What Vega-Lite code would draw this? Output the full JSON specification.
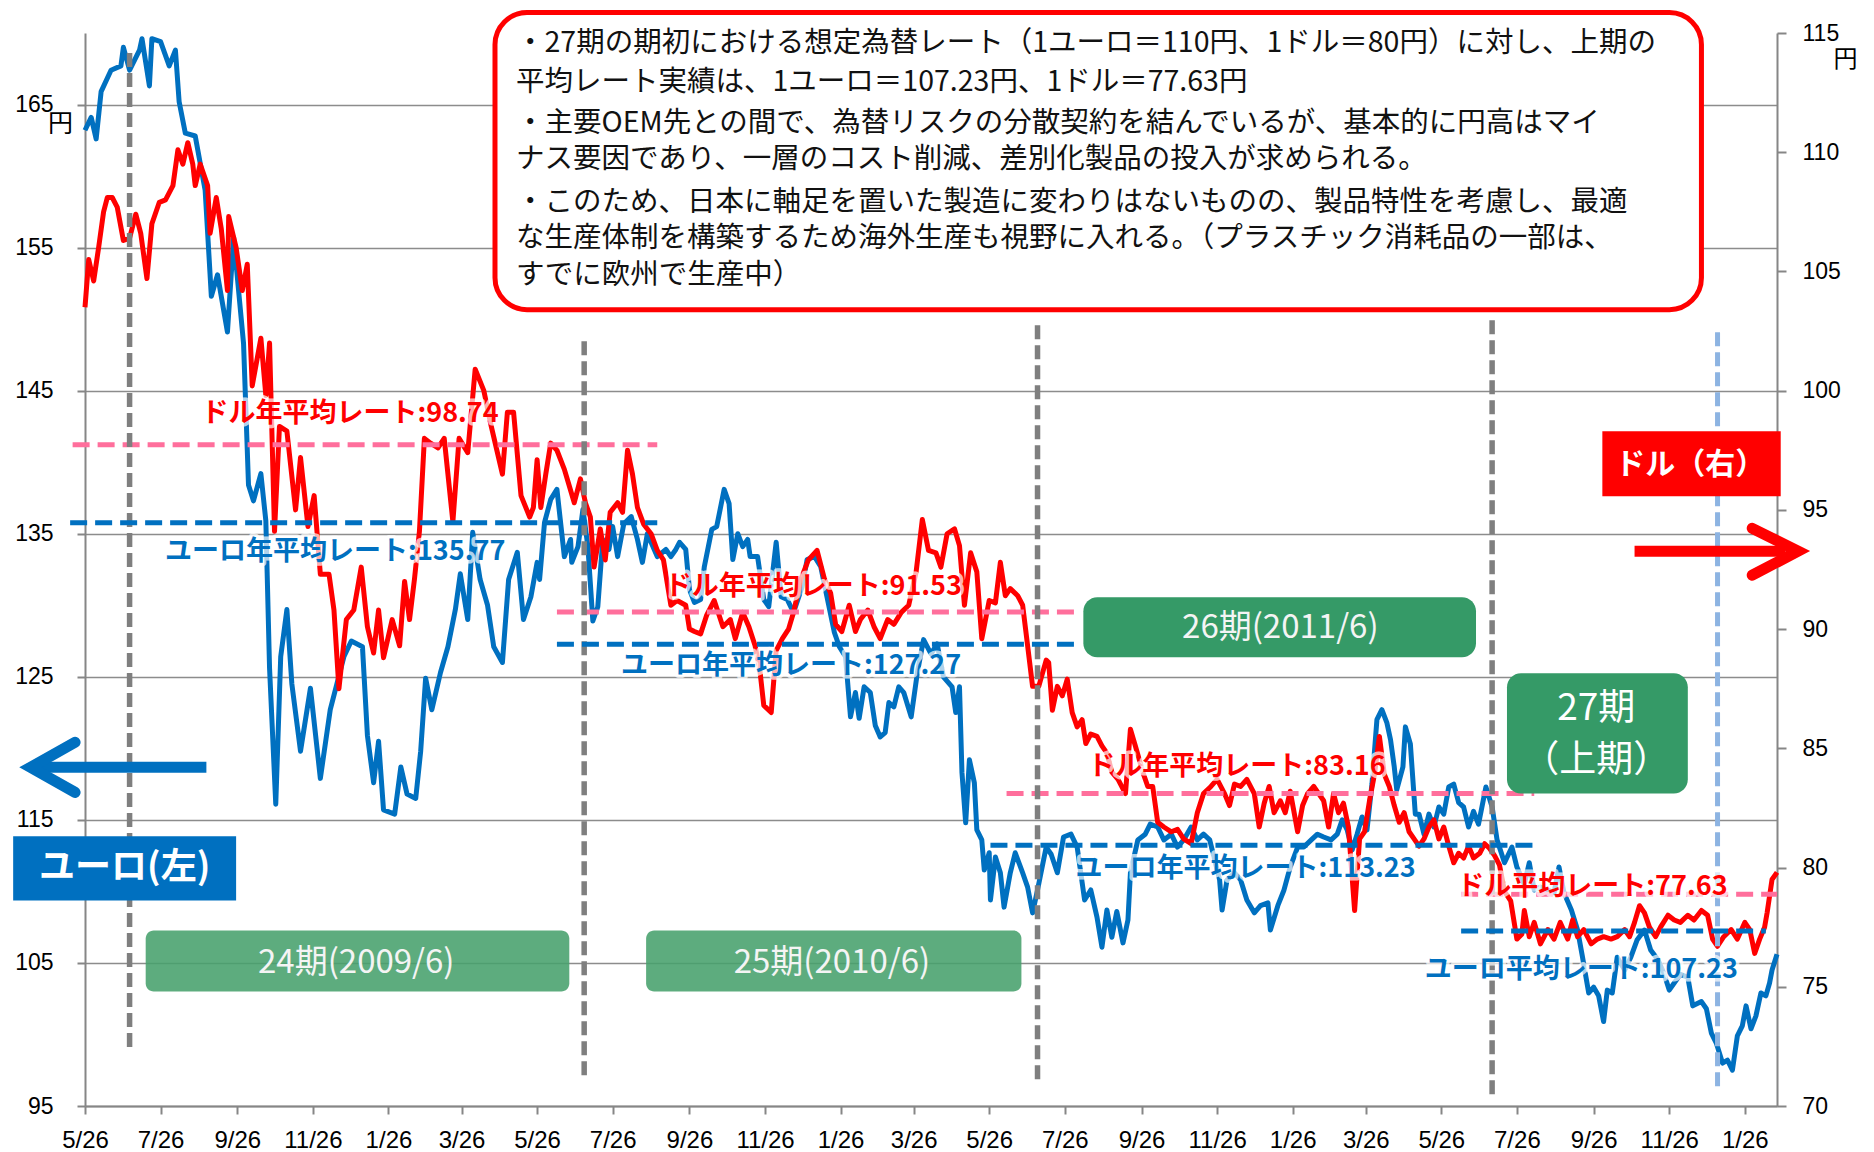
{
"$schema":"https://vega.github.io/schema/vega-lite/v6.json",
"width":1692,"height":1073,
"autosize":{"type":"none"},
"padding":{"left":85,"top":33,"right":97,"bottom":46},
"background":"white",
"config":{"view":{"stroke":null},"font":"Noto Sans CJK JP"},
"datasets":{
"euro":[
{"d":"2008-05-26","v":163.2},{"d":"2008-05-31","v":164.1},{"d":"2008-06-04","v":162.6},{"d":"2008-06-08","v":165.9},{"d":"2008-06-16","v":167.4},{"d":"2008-06-24","v":167.7},{"d":"2008-06-26","v":169.0},{"d":"2008-07-01","v":167.4},{"d":"2008-07-09","v":168.8},{"d":"2008-07-11","v":169.6},{"d":"2008-07-17","v":166.3},{"d":"2008-07-19","v":169.6},{"d":"2008-07-26","v":169.4},{"d":"2008-08-02","v":167.7},{"d":"2008-08-07","v":168.8},{"d":"2008-08-10","v":165.2},{"d":"2008-08-15","v":163.0},{"d":"2008-08-23","v":162.8},{"d":"2008-08-31","v":159.0},{"d":"2008-09-05","v":151.6},{"d":"2008-09-10","v":153.1},{"d":"2008-09-18","v":149.1},{"d":"2008-09-23","v":155.7},{"d":"2008-10-01","v":148.3},{"d":"2008-10-05","v":138.4},{"d":"2008-10-09","v":137.3},{"d":"2008-10-15","v":139.2},{"d":"2008-10-19","v":135.9},{"d":"2008-10-22","v":125.6},{"d":"2008-10-27","v":116.1},{"d":"2008-10-31","v":126.4},{"d":"2008-11-05","v":129.7},{"d":"2008-11-09","v":124.5},{"d":"2008-11-16","v":119.8},{"d":"2008-11-24","v":124.2},{"d":"2008-12-02","v":117.9},{"d":"2008-12-10","v":122.7},{"d":"2008-12-21","v":126.4},{"d":"2008-12-27","v":127.5},
{"d":"2009-01-05","v":127.1},{"d":"2009-01-09","v":120.9},{"d":"2009-01-14","v":117.6},{"d":"2009-01-18","v":120.5},{"d":"2009-01-22","v":115.7},{"d":"2009-01-31","v":115.4},{"d":"2009-02-05","v":118.7},{"d":"2009-02-10","v":116.8},{"d":"2009-02-17","v":116.5},{"d":"2009-02-21","v":119.8},{"d":"2009-02-25","v":124.9},{"d":"2009-03-02","v":122.7},{"d":"2009-03-09","v":125.3},{"d":"2009-03-15","v":127.1},{"d":"2009-03-21","v":129.7},{"d":"2009-03-25","v":132.2},{"d":"2009-03-31","v":129.0},{"d":"2009-04-04","v":135.1},{"d":"2009-04-10","v":131.8},{"d":"2009-04-16","v":130.0},{"d":"2009-04-21","v":127.1},{"d":"2009-04-28","v":126.0},{"d":"2009-05-03","v":131.8},{"d":"2009-05-10","v":133.7},{"d":"2009-05-15","v":129.0},
{"d":"2009-05-21","v":130.6},{"d":"2009-05-26","v":133.0},{"d":"2009-05-28","v":131.8},{"d":"2009-06-01","v":135.8},{"d":"2009-06-06","v":137.4},{"d":"2009-06-11","v":138.1},{"d":"2009-06-17","v":133.4},{"d":"2009-06-22","v":134.6},{"d":"2009-06-23","v":133.0},{"d":"2009-06-28","v":134.1},{"d":"2009-07-02","v":136.7},{"d":"2009-07-06","v":134.1},{"d":"2009-07-10","v":128.9},{"d":"2009-07-14","v":129.9},{"d":"2009-07-18","v":134.6},{"d":"2009-07-23","v":133.9},{"d":"2009-07-26","v":135.5},{"d":"2009-07-30","v":133.4},{"d":"2009-08-04","v":135.7},{"d":"2009-08-10","v":136.2},{"d":"2009-08-15","v":134.6},{"d":"2009-08-19","v":133.0},{"d":"2009-08-23","v":135.0},{"d":"2009-08-31","v":133.4},{"d":"2009-09-07","v":133.9},{"d":"2009-09-11","v":133.4},{"d":"2009-09-15","v":133.9},{"d":"2009-09-18","v":134.4},{"d":"2009-09-23","v":133.9},{"d":"2009-09-26","v":131.1},{"d":"2009-09-30","v":130.2},{"d":"2009-10-05","v":130.4},{"d":"2009-10-08","v":132.7},{"d":"2009-10-14","v":135.3},{"d":"2009-10-18","v":135.5},{"d":"2009-10-24","v":138.1},{"d":"2009-10-28","v":137.1},{"d":"2009-10-31","v":133.2},{"d":"2009-11-04","v":135.0},{"d":"2009-11-08","v":134.1},{"d":"2009-11-12","v":134.6},{"d":"2009-11-14","v":133.4},{"d":"2009-11-20","v":133.4},{"d":"2009-11-25","v":130.4},{"d":"2009-11-29","v":129.9},{"d":"2009-12-05","v":134.4},{"d":"2009-12-09","v":130.6},{"d":"2009-12-14","v":130.4},{"d":"2009-12-19","v":129.5},{"d":"2009-12-26","v":131.3},{"d":"2009-12-30","v":133.2},
{"d":"2010-01-05","v":133.4},{"d":"2010-01-10","v":132.7},{"d":"2010-01-15","v":130.6},{"d":"2010-01-21","v":128.1},{"d":"2010-01-25","v":127.1},{"d":"2010-01-30","v":126.4},{"d":"2010-02-03","v":122.2},{"d":"2010-02-07","v":123.9},{"d":"2010-02-10","v":122.1},{"d":"2010-02-14","v":124.3},{"d":"2010-02-19","v":123.9},{"d":"2010-02-23","v":121.6},{"d":"2010-02-27","v":120.8},{"d":"2010-03-03","v":121.1},{"d":"2010-03-06","v":123.2},{"d":"2010-03-10","v":122.9},{"d":"2010-03-14","v":124.3},{"d":"2010-03-18","v":123.9},{"d":"2010-03-24","v":122.2},{"d":"2010-03-29","v":125.3},{"d":"2010-04-03","v":127.6},{"d":"2010-04-09","v":126.6},{"d":"2010-04-14","v":127.3},{"d":"2010-04-19","v":125.0},{"d":"2010-04-26","v":124.3},{"d":"2010-04-29","v":122.5},{"d":"2010-05-02","v":124.3},{"d":"2010-05-04","v":118.3},{"d":"2010-05-07","v":114.8},{"d":"2010-05-10","v":119.2},{"d":"2010-05-14","v":117.6},{"d":"2010-05-16","v":114.3},{"d":"2010-05-20","v":113.6},{"d":"2010-05-22","v":111.5},{"d":"2010-05-26","v":112.7},{"d":"2010-05-27","v":109.4},{"d":"2010-05-31","v":112.4},{"d":"2010-06-04","v":111.3},{"d":"2010-06-07","v":108.9},{"d":"2010-06-12","v":111.3},{"d":"2010-06-16","v":112.7},{"d":"2010-06-22","v":111.3},{"d":"2010-06-26","v":110.3},{"d":"2010-06-30","v":108.5},{"d":"2010-07-04","v":110.1},{"d":"2010-07-11","v":113.1},
{"d":"2010-07-15","v":112.6},{"d":"2010-07-20","v":111.3},{"d":"2010-07-25","v":113.8},{"d":"2010-07-31","v":114.0},{"d":"2010-08-05","v":113.1},{"d":"2010-08-11","v":109.4},{"d":"2010-08-16","v":110.1},{"d":"2010-08-21","v":108.2},{"d":"2010-08-25","v":106.1},{"d":"2010-08-29","v":108.7},{"d":"2010-09-02","v":106.8},{"d":"2010-09-06","v":108.6},{"d":"2010-09-11","v":106.4},{"d":"2010-09-15","v":108.0},{"d":"2010-09-17","v":111.3},{"d":"2010-09-23","v":113.6},{"d":"2010-09-29","v":114.0},{"d":"2010-10-03","v":114.7},{"d":"2010-10-09","v":114.5},{"d":"2010-10-14","v":113.6},{"d":"2010-10-20","v":114.0},{"d":"2010-10-25","v":113.1},{"d":"2010-10-30","v":113.6},{"d":"2010-11-05","v":114.5},{"d":"2010-11-10","v":113.6},{"d":"2010-11-15","v":114.0},{"d":"2010-11-20","v":113.6},{"d":"2010-11-24","v":112.2},{"d":"2010-11-28","v":110.8},{"d":"2010-11-30","v":108.7},{"d":"2010-12-04","v":110.8},{"d":"2010-12-10","v":111.3},{"d":"2010-12-15","v":110.8},{"d":"2010-12-20","v":109.4},{"d":"2010-12-26","v":108.5},{"d":"2010-12-31","v":109.0},
{"d":"2011-01-06","v":109.2},{"d":"2011-01-08","v":107.3},{"d":"2011-01-14","v":109.0},{"d":"2011-01-19","v":110.1},{"d":"2011-01-24","v":111.7},{"d":"2011-01-30","v":113.1},{"d":"2011-02-04","v":113.1},{"d":"2011-02-10","v":113.6},{"d":"2011-02-15","v":114.0},{"d":"2011-02-20","v":113.8},{"d":"2011-02-26","v":113.6},{"d":"2011-03-03","v":114.0},{"d":"2011-03-07","v":115.0},{"d":"2011-03-11","v":114.3},{"d":"2011-03-15","v":112.9},{"d":"2011-03-19","v":114.0},{"d":"2011-03-23","v":115.2},{"d":"2011-03-27","v":114.3},{"d":"2011-03-31","v":117.5},{"d":"2011-04-04","v":122.0},{"d":"2011-04-08","v":122.7},{"d":"2011-04-12","v":121.8},{"d":"2011-04-15","v":120.6},{"d":"2011-04-18","v":118.7},{"d":"2011-04-20","v":117.1},{"d":"2011-04-25","v":118.7},{"d":"2011-04-27","v":121.5},{"d":"2011-05-01","v":120.3},{"d":"2011-05-05","v":115.4},{"d":"2011-05-08","v":115.4},{"d":"2011-05-12","v":114.0},{"d":"2011-05-16","v":115.4},{"d":"2011-05-20","v":114.5},{"d":"2011-05-24","v":115.9},{"d":"2011-05-28","v":115.4},{"d":"2011-06-01","v":117.3},{"d":"2011-06-05","v":117.5},{"d":"2011-06-09","v":116.2},{"d":"2011-06-13","v":115.9},{"d":"2011-06-17","v":114.5},{"d":"2011-06-21","v":115.6},{"d":"2011-06-25","v":114.7},{"d":"2011-07-01","v":117.3},{"d":"2011-07-06","v":115.9},{"d":"2011-07-10","v":113.6},{"d":"2011-07-16","v":112.0},{"d":"2011-07-22","v":113.1},{"d":"2011-07-26","v":111.7},{"d":"2011-08-01","v":110.5},
{"d":"2011-08-05","v":112.0},{"d":"2011-08-09","v":110.1},{"d":"2011-08-14","v":110.3},{"d":"2011-08-20","v":110.1},{"d":"2011-08-25","v":109.9},{"d":"2011-08-29","v":111.7},{"d":"2011-09-02","v":109.9},{"d":"2011-09-08","v":108.7},{"d":"2011-09-13","v":107.3},{"d":"2011-09-17","v":105.4},{"d":"2011-09-22","v":102.9},{"d":"2011-09-26","v":103.3},{"d":"2011-09-30","v":102.7},{"d":"2011-10-04","v":100.9},{"d":"2011-10-07","v":103.1},{"d":"2011-10-11","v":102.9},{"d":"2011-10-15","v":105.4},{"d":"2011-10-21","v":104.5},{"d":"2011-10-26","v":105.4},{"d":"2011-10-31","v":106.6},{"d":"2011-11-06","v":107.3},{"d":"2011-11-11","v":105.9},{"d":"2011-11-17","v":105.2},{"d":"2011-11-22","v":104.2},{"d":"2011-11-26","v":103.1},{"d":"2011-11-30","v":103.6},{"d":"2011-12-05","v":104.2},{"d":"2011-12-11","v":104.0},{"d":"2011-12-15","v":102.0},{"d":"2011-12-22","v":102.3},{"d":"2011-12-26","v":101.8},{"d":"2011-12-30","v":100.1},{"d":"2012-01-03","v":99.4},{"d":"2012-01-08","v":98.0},{"d":"2012-01-12","v":98.2},{"d":"2012-01-16","v":97.5},{"d":"2012-01-20","v":99.9},{"d":"2012-01-24","v":100.6},{"d":"2012-01-27","v":102.0},{"d":"2012-01-31","v":100.4},{"d":"2012-02-04","v":101.3},{"d":"2012-02-08","v":102.9},{"d":"2012-02-12","v":102.7},{"d":"2012-02-15","v":103.6},{"d":"2012-02-17","v":104.5},{"d":"2012-02-21","v":105.6}
],
"usd":[
{"d":"2008-05-26","v":103.5},{"d":"2008-05-29","v":105.5},{"d":"2008-06-02","v":104.6},{"d":"2008-06-06","v":106.0},{"d":"2008-06-10","v":107.5},{"d":"2008-06-13","v":108.1},{"d":"2008-06-17","v":108.1},{"d":"2008-06-21","v":107.7},{"d":"2008-06-26","v":106.3},{"d":"2008-07-01","v":106.4},{"d":"2008-07-06","v":107.4},{"d":"2008-07-10","v":106.6},{"d":"2008-07-15","v":104.7},{"d":"2008-07-19","v":107.0},{"d":"2008-07-25","v":107.9},{"d":"2008-07-30","v":108.0},{"d":"2008-08-05","v":108.6},{"d":"2008-08-09","v":110.1},{"d":"2008-08-13","v":109.5},{"d":"2008-08-17","v":110.4},{"d":"2008-08-21","v":109.5},{"d":"2008-08-23","v":108.6},{"d":"2008-08-27","v":109.5},{"d":"2008-09-02","v":108.6},{"d":"2008-09-04","v":106.6},{"d":"2008-09-09","v":108.1},{"d":"2008-09-13","v":106.8},{"d":"2008-09-18","v":104.2},{"d":"2008-09-19","v":107.3},{"d":"2008-09-25","v":106.0},{"d":"2008-09-30","v":104.2},{"d":"2008-10-04","v":105.3},{"d":"2008-10-08","v":100.2},{"d":"2008-10-15","v":102.2},{"d":"2008-10-19","v":99.8},{"d":"2008-10-22","v":102.0},{"d":"2008-10-26","v":94.1},{"d":"2008-10-30","v":98.5},{"d":"2008-11-05","v":98.3},{"d":"2008-11-12","v":95.0},{"d":"2008-11-16","v":97.2},{"d":"2008-11-22","v":94.3},{"d":"2008-11-27","v":95.6},{"d":"2008-12-02","v":92.3},{"d":"2008-12-09","v":92.3},{"d":"2008-12-13","v":90.8},{"d":"2008-12-17","v":87.5},{"d":"2008-12-23","v":90.4},{"d":"2008-12-29","v":90.8},
{"d":"2009-01-04","v":92.6},{"d":"2009-01-09","v":90.1},{"d":"2009-01-14","v":89.0},{"d":"2009-01-18","v":90.8},{"d":"2009-01-22","v":88.8},{"d":"2009-01-29","v":90.4},{"d":"2009-02-04","v":89.3},{"d":"2009-02-08","v":92.0},{"d":"2009-02-12","v":90.4},{"d":"2009-02-16","v":92.1},{"d":"2009-02-20","v":94.1},{"d":"2009-02-24","v":98.0},{"d":"2009-03-01","v":97.8},{"d":"2009-03-07","v":97.6},{"d":"2009-03-12","v":98.0},{"d":"2009-03-19","v":94.5},{"d":"2009-03-24","v":98.0},{"d":"2009-03-31","v":97.4},{"d":"2009-04-06","v":100.9},{"d":"2009-04-13","v":100.0},{"d":"2009-04-19","v":98.5},{"d":"2009-04-28","v":96.5},{"d":"2009-05-02","v":99.1},{"d":"2009-05-07","v":99.1},{"d":"2009-05-13","v":95.6},{"d":"2009-05-20","v":94.7},
{"d":"2009-05-23","v":95.1},{"d":"2009-05-26","v":97.1},{"d":"2009-05-29","v":95.1},{"d":"2009-06-02","v":96.5},{"d":"2009-06-06","v":97.8},{"d":"2009-06-11","v":97.5},{"d":"2009-06-17","v":96.7},{"d":"2009-06-21","v":96.0},{"d":"2009-06-25","v":95.3},{"d":"2009-06-30","v":96.3},{"d":"2009-07-04","v":95.3},{"d":"2009-07-08","v":94.7},{"d":"2009-07-11","v":92.6},{"d":"2009-07-16","v":94.2},{"d":"2009-07-20","v":92.9},{"d":"2009-07-24","v":94.9},{"d":"2009-07-30","v":95.3},{"d":"2009-08-03","v":94.9},{"d":"2009-08-07","v":97.5},{"d":"2009-08-11","v":96.5},{"d":"2009-08-15","v":95.1},{"d":"2009-08-20","v":94.4},{"d":"2009-08-26","v":94.0},{"d":"2009-08-31","v":93.3},{"d":"2009-09-05","v":92.9},{"d":"2009-09-11","v":91.0},{"d":"2009-09-16","v":91.2},{"d":"2009-09-23","v":91.0},{"d":"2009-09-26","v":90.0},{"d":"2009-09-30","v":89.9},{"d":"2009-10-05","v":89.8},{"d":"2009-10-10","v":90.6},{"d":"2009-10-16","v":91.2},{"d":"2009-10-23","v":90.1},{"d":"2009-10-29","v":90.4},{"d":"2009-11-02","v":89.6},{"d":"2009-11-08","v":90.7},{"d":"2009-11-13","v":90.1},{"d":"2009-11-18","v":89.3},{"d":"2009-11-22","v":88.2},{"d":"2009-11-25","v":86.8},{"d":"2009-12-01","v":86.5},{"d":"2009-12-05","v":89.1},{"d":"2009-12-10","v":89.6},{"d":"2009-12-15","v":90.0},{"d":"2009-12-19","v":90.7},{"d":"2009-12-25","v":92.1},{"d":"2009-12-31","v":92.9},
{"d":"2010-01-07","v":93.3},{"d":"2010-01-13","v":92.1},{"d":"2010-01-18","v":91.5},{"d":"2010-01-22","v":90.2},{"d":"2010-01-27","v":89.9},{"d":"2010-02-02","v":91.0},{"d":"2010-02-07","v":89.9},{"d":"2010-02-11","v":90.4},{"d":"2010-02-17","v":90.8},{"d":"2010-02-22","v":90.1},{"d":"2010-02-27","v":89.6},{"d":"2010-03-05","v":90.4},{"d":"2010-03-10","v":90.2},{"d":"2010-03-16","v":90.7},{"d":"2010-03-22","v":91.0},{"d":"2010-03-28","v":92.4},{"d":"2010-04-02","v":94.6},{"d":"2010-04-07","v":93.3},{"d":"2010-04-13","v":93.2},{"d":"2010-04-17","v":92.6},{"d":"2010-04-22","v":94.0},{"d":"2010-04-28","v":94.2},{"d":"2010-05-02","v":93.5},{"d":"2010-05-06","v":91.0},{"d":"2010-05-11","v":93.2},{"d":"2010-05-16","v":92.4},{"d":"2010-05-20","v":89.6},{"d":"2010-05-26","v":91.2},{"d":"2010-05-31","v":91.1},{"d":"2010-06-04","v":92.8},{"d":"2010-06-08","v":91.4},{"d":"2010-06-12","v":91.7},{"d":"2010-06-18","v":91.4},{"d":"2010-06-22","v":91.0},{"d":"2010-06-26","v":89.3},{"d":"2010-06-30","v":87.6},{"d":"2010-07-05","v":87.6},{"d":"2010-07-11","v":88.7},
{"d":"2010-07-13","v":88.6},{"d":"2010-07-16","v":86.6},{"d":"2010-07-20","v":87.6},{"d":"2010-07-24","v":87.2},{"d":"2010-07-28","v":87.9},{"d":"2010-08-01","v":86.5},{"d":"2010-08-05","v":85.9},{"d":"2010-08-09","v":86.2},{"d":"2010-08-12","v":85.2},{"d":"2010-08-16","v":85.6},{"d":"2010-08-21","v":85.5},{"d":"2010-08-25","v":85.1},{"d":"2010-08-29","v":84.8},{"d":"2010-09-02","v":84.0},{"d":"2010-09-07","v":83.7},{"d":"2010-09-13","v":83.1},{"d":"2010-09-17","v":85.8},{"d":"2010-09-21","v":85.1},{"d":"2010-09-27","v":84.0},{"d":"2010-10-01","v":83.4},{"d":"2010-10-05","v":83.4},{"d":"2010-10-09","v":81.9},{"d":"2010-10-14","v":81.7},{"d":"2010-10-20","v":81.5},{"d":"2010-10-25","v":81.6},{"d":"2010-10-30","v":81.2},{"d":"2010-11-05","v":81.0},{"d":"2010-11-10","v":82.3},{"d":"2010-11-15","v":83.1},{"d":"2010-11-21","v":83.4},{"d":"2010-11-26","v":83.7},{"d":"2010-12-02","v":83.1},{"d":"2010-12-06","v":82.6},{"d":"2010-12-10","v":83.5},{"d":"2010-12-15","v":83.4},{"d":"2010-12-20","v":83.7},{"d":"2010-12-26","v":83.1},{"d":"2010-12-30","v":81.7},
{"d":"2011-01-03","v":82.7},{"d":"2011-01-07","v":83.4},{"d":"2011-01-11","v":82.3},{"d":"2011-01-16","v":82.8},{"d":"2011-01-20","v":82.3},{"d":"2011-01-24","v":83.2},{"d":"2011-01-30","v":81.5},{"d":"2011-02-03","v":82.6},{"d":"2011-02-07","v":83.1},{"d":"2011-02-12","v":83.4},{"d":"2011-02-16","v":83.1},{"d":"2011-02-20","v":82.8},{"d":"2011-02-24","v":81.7},{"d":"2011-02-28","v":83.1},{"d":"2011-03-04","v":82.3},{"d":"2011-03-08","v":82.7},{"d":"2011-03-12","v":81.7},{"d":"2011-03-17","v":78.2},{"d":"2011-03-21","v":81.2},{"d":"2011-03-25","v":81.5},{"d":"2011-03-29","v":82.8},{"d":"2011-04-02","v":83.9},{"d":"2011-04-06","v":85.5},{"d":"2011-04-10","v":83.9},{"d":"2011-04-14","v":83.4},{"d":"2011-04-18","v":82.6},{"d":"2011-04-22","v":81.9},{"d":"2011-04-26","v":82.3},{"d":"2011-04-30","v":81.5},{"d":"2011-05-04","v":81.2},{"d":"2011-05-08","v":80.9},{"d":"2011-05-12","v":81.2},{"d":"2011-05-16","v":81.7},{"d":"2011-05-20","v":82.0},{"d":"2011-05-24","v":81.2},{"d":"2011-05-28","v":81.7},{"d":"2011-06-01","v":80.9},{"d":"2011-06-05","v":80.2},{"d":"2011-06-09","v":80.6},{"d":"2011-06-13","v":80.4},{"d":"2011-06-17","v":80.9},{"d":"2011-06-21","v":80.4},{"d":"2011-06-26","v":80.6},{"d":"2011-06-30","v":81.0},{"d":"2011-07-04","v":80.8},{"d":"2011-07-08","v":80.5},{"d":"2011-07-12","v":80.1},{"d":"2011-07-16","v":79.0},{"d":"2011-07-21","v":78.6},{"d":"2011-07-26","v":77.0},{"d":"2011-07-30","v":77.2},
{"d":"2011-08-01","v":78.2},{"d":"2011-08-05","v":77.1},{"d":"2011-08-09","v":77.7},{"d":"2011-08-14","v":76.8},{"d":"2011-08-20","v":77.4},{"d":"2011-08-25","v":77.0},{"d":"2011-08-30","v":77.7},{"d":"2011-09-05","v":77.0},{"d":"2011-09-09","v":77.8},{"d":"2011-09-13","v":77.1},{"d":"2011-09-18","v":77.4},{"d":"2011-09-24","v":76.8},{"d":"2011-09-29","v":77.0},{"d":"2011-10-04","v":77.1},{"d":"2011-10-10","v":77.0},{"d":"2011-10-15","v":77.1},{"d":"2011-10-21","v":77.4},{"d":"2011-10-25","v":77.1},{"d":"2011-10-29","v":77.7},{"d":"2011-11-02","v":78.4},{"d":"2011-11-06","v":78.1},{"d":"2011-11-10","v":77.5},{"d":"2011-11-15","v":77.1},{"d":"2011-11-19","v":77.5},{"d":"2011-11-25","v":78.0},{"d":"2011-11-30","v":77.8},{"d":"2011-12-05","v":77.7},{"d":"2011-12-11","v":78.0},{"d":"2011-12-16","v":77.8},{"d":"2011-12-22","v":78.2},{"d":"2011-12-27","v":78.0},{"d":"2011-12-31","v":77.0},{"d":"2012-01-04","v":76.7},{"d":"2012-01-09","v":77.1},{"d":"2012-01-15","v":77.4},{"d":"2012-01-20","v":77.0},{"d":"2012-01-26","v":77.7},{"d":"2012-01-30","v":77.4},{"d":"2012-02-03","v":76.4},{"d":"2012-02-07","v":77.0},{"d":"2012-02-11","v":77.5},{"d":"2012-02-13","v":78.1},{"d":"2012-02-17","v":79.5},{"d":"2012-02-21","v":79.8}
],
"labels":[
{"d":"2008-12-26","v":143.36,"t":"ドル年平均レート:98.74","c":"usd"},
{"d":"2010-01-04","v":131.26,"t":"ドル年平均レート:91.53","c":"usd"},
{"d":"2010-12-12","v":118.67,"t":"ドル年平均レート:83.16","c":"usd"},
{"d":"2011-09-25","v":110.28,"t":"ドル平均レート:77.63","c":"usd"},
{"d":"2008-12-14","v":133.71,"t":"ユーロ年平均レート:135.77","c":"eur"},
{"d":"2009-12-17","v":125.73,"t":"ユーロ年平均レート:127.27","c":"eur"},
{"d":"2010-12-19","v":111.54,"t":"ユーロ年平均レート:113.23","c":"eur"},
{"d":"2011-09-16","v":104.48,"t":"ユーロ平均レート:107.23","c":"eur"}
]
},
"layer":[
{"data":{"name":"euro"},
 "mark":{"type":"line","color":"#0070C0","strokeWidth":5,"strokeJoin":"round"},
 "encoding":{
  "x":{"field":"d","type":"temporal",
   "scale":{"type":"utc","domain":[{"year":2008,"month":5,"date":26,"utc":true},{"year":2012,"month":2,"date":21,"utc":true}]},
   "axis":{"orient":"bottom","values":[1211760000000,1217030400000,1222387200000,1227657600000,1232928000000,1238025600000,1243296000000,1248566400000,1253923200000,1259193600000,1264464000000,1269561600000,1274832000000,1280102400000,1285459200000,1290729600000,1296000000000,1301097600000,1306368000000,1311638400000,1316995200000,1322265600000,1327536000000],
    "labelExpr":"utcFormat(datum.value, '%-m/%-d')","title":null,"grid":false,"labelAngle":0,"labelOverlap":false,"labelFlush":false,"labelBound":false,
    "labelFont":"Liberation Sans Narrow, Liberation Sans","labelFontSize":24,"labelColor":"#000000","labelPadding":14,
    "ticks":true,"tickSize":8,"tickColor":"#868686","tickWidth":2,"domain":true,"domainColor":"#868686","domainWidth":2}},
  "y":{"field":"v","type":"quantitative",
   "scale":{"domain":[95,170],"nice":false,"zero":false},
   "axis":{"orient":"left","values":[95,105,115,125,135,145,155,165],"grid":true,"gridColor":"#8c8c8c","gridWidth":1.5,
    "domainColor":"#868686","domainWidth":2,"tickSize":8,"tickColor":"#868686","tickWidth":2,
    "labelFont":"Liberation Sans","labelFontSize":23,"labelColor":"#000000","labelPadding":24,
    "title":"円","titleAngle":0,"titleX":-25,"titleY":90,"titleFont":"Noto Sans CJK JP","titleFontSize":25,"titleFontWeight":"normal","titleColor":"#000000","titleAlign":"center","titleBaseline":"middle"}}
 }},
{"data":{"name":"usd"},
 "mark":{"type":"line","color":"#FF0000","strokeWidth":5,"strokeJoin":"round"},
 "encoding":{
  "x":{"field":"d","type":"temporal","scale":{"type":"utc","domain":[{"year":2008,"month":5,"date":26,"utc":true},{"year":2012,"month":2,"date":21,"utc":true}]}},
  "y":{"field":"v","type":"quantitative","scale":{"domain":[70,115],"nice":false,"zero":false},
   "axis":{"orient":"right","values":[70,75,80,85,90,95,100,105,110,115],"grid":false,
    "domainColor":"#868686","domainWidth":2,"tickSize":9,"tickColor":"#868686","tickWidth":2,
    "labelFont":"Liberation Sans","labelFontSize":23,"labelColor":"#000000","labelPadding":16,
    "title":"円","titleAngle":0,"titleX":68,"titleY":26,"titleFont":"Noto Sans CJK JP","titleFontSize":24,"titleFontWeight":"normal","titleColor":"#000000","titleAlign":"center","titleBaseline":"middle"}}
 }},
{"data":{"values":[
  {"d1":"2008-05-16","d2":"2009-08-31","v":97.73},
  {"d1":"2009-06-11","d2":"2010-08-04","v":90.72},
  {"d1":"2010-06-09","d2":"2011-08-09","v":83.11},
  {"d1":"2011-06-11","d2":"2012-02-21","v":78.88}]},
 "mark":{"type":"rule","color":"#FF6F9C","strokeWidth":5,"strokeDash":[17,8]},
 "encoding":{
  "x":{"field":"d1","type":"temporal","scale":{"type":"utc","domain":[{"year":2008,"month":5,"date":26,"utc":true},{"year":2012,"month":2,"date":21,"utc":true}]}},
  "x2":{"field":"d2"},
  "y":{"field":"v","type":"quantitative","scale":{"domain":[70,115],"nice":false,"zero":false},"axis":null}
 }},
{"data":{"values":[
  {"d":"2008-07-01","v1":168.6,"v2":98.74},
  {"d":"2009-07-03","v1":148.46,"v2":96.92},
  {"d":"2010-07-04","v1":149.58,"v2":96.78},
  {"d":"2011-07-06","v1":149.93,"v2":95.8}]},
 "mark":{"type":"rule","color":"#7F7F7F","strokeWidth":5.5,"strokeDash":[14,6]},
 "encoding":{
  "x":{"field":"d","type":"temporal","scale":{"type":"utc","domain":[{"year":2008,"month":5,"date":26,"utc":true},{"year":2012,"month":2,"date":21,"utc":true}]}},
  "y":{"field":"v1","type":"quantitative","scale":{"domain":[95,170],"nice":false,"zero":false},"axis":null},
  "y2":{"field":"v2"}
 }},
{"data":{"values":[{"d":"2012-01-04","v1":149.09,"v2":96.22}]},
 "mark":{"type":"rule","color":"#8DB4E2","strokeWidth":5,"strokeDash":[14,6]},
 "encoding":{
  "x":{"field":"d","type":"temporal","scale":{"type":"utc","domain":[{"year":2008,"month":5,"date":26,"utc":true},{"year":2012,"month":2,"date":21,"utc":true}]}},
  "y":{"field":"v1","type":"quantitative","scale":{"domain":[95,170],"nice":false,"zero":false},"axis":null},
  "y2":{"field":"v2"}
 }},
{"data":{"values":[
  {"d1":"2008-05-14","d2":"2009-08-31","v":135.77},
  {"d1":"2009-06-11","d2":"2010-08-04","v":127.27},
  {"d1":"2010-05-27","d2":"2011-08-09","v":113.23},
  {"d1":"2011-06-11","d2":"2012-02-12","v":107.23}]},
 "mark":{"type":"rule","color":"#0070C0","strokeWidth":5,"strokeDash":[17,8]},
 "encoding":{
  "x":{"field":"d1","type":"temporal","scale":{"type":"utc","domain":[{"year":2008,"month":5,"date":26,"utc":true},{"year":2012,"month":2,"date":21,"utc":true}]}},
  "x2":{"field":"d2"},
  "y":{"field":"v","type":"quantitative","scale":{"domain":[95,170],"nice":false,"zero":false},"axis":null}
 }},
{"data":{"name":"labels"},
 "mark":{"type":"text","font":"Noto Sans CJK JP","fontSize":27,"fontWeight":"bold","align":"center","baseline":"middle","stroke":"#ffffff","strokeWidth":7,"strokeOpacity":0.7,"strokeJoin":"round","fill":"#ffffff","fillOpacity":0.7},
 "encoding":{
  "x":{"field":"d","type":"temporal","scale":{"type":"utc","domain":[{"year":2008,"month":5,"date":26,"utc":true},{"year":2012,"month":2,"date":21,"utc":true}]}},
  "y":{"field":"v","type":"quantitative","scale":{"domain":[95,170],"nice":false,"zero":false},"axis":null},
  "text":{"field":"t"}}},
{"data":{"name":"labels"},
 "mark":{"type":"text","font":"Noto Sans CJK JP","fontSize":27,"fontWeight":"bold","align":"center","baseline":"middle"},
 "encoding":{
  "x":{"field":"d","type":"temporal","scale":{"type":"utc","domain":[{"year":2008,"month":5,"date":26,"utc":true},{"year":2012,"month":2,"date":21,"utc":true}]}},
  "y":{"field":"v","type":"quantitative","scale":{"domain":[95,170],"nice":false,"zero":false},"axis":null},
  "text":{"field":"t"},
  "color":{"field":"c","type":"nominal","scale":{"domain":["usd","eur"],"range":["#FF0000","#0070C0"]},"legend":null}}},
{"data":{"values":[{"d1":"2009-04-22","d2":"2011-12-22","v1":171.43,"v2":150.66}]},
 "mark":{"type":"rect","fill":"#ffffff","stroke":"#FF0000","strokeWidth":5,"cornerRadius":32},
 "encoding":{
  "x":{"field":"d1","type":"temporal","scale":{"type":"utc","domain":[{"year":2008,"month":5,"date":26,"utc":true},{"year":2012,"month":2,"date":21,"utc":true}]}},
  "x2":{"field":"d2"},
  "y":{"field":"v1","type":"quantitative","scale":{"domain":[95,170],"nice":false,"zero":false},"axis":null},
  "y2":{"field":"v2"}}},
{"data":{"values":[
  {"d":"2009-05-09","v":169.30,"t":"・27期の期初における想定為替レート（1ユーロ＝110円、1ドル＝80円）に対し、上期の"},
  {"d":"2009-05-09","v":166.57,"t":"平均レート実績は、1ユーロ＝107.23円、1ドル＝77.63円"},
  {"d":"2009-05-09","v":163.71,"t":"・主要OEM先との間で、為替リスクの分散契約を結んでいるが、基本的に円高はマイ"},
  {"d":"2009-05-09","v":161.19,"t":"ナス要因であり、一層のコスト削減、差別化製品の投入が求められる。"},
  {"d":"2009-05-09","v":158.18,"t":"・このため、日本に軸足を置いた製造に変わりはないものの、製品特性を考慮し、最適"},
  {"d":"2009-05-09","v":155.66,"t":"な生産体制を構築するため海外生産も視野に入れる。（プラスチック消耗品の一部は、"},
  {"d":"2009-05-09","v":153.08,"t":"すでに欧州で生産中）"}]},
 "mark":{"type":"text","font":"Noto Sans CJK JP","fontSize":28.5,"align":"left","baseline":"middle","color":"#111111"},
 "encoding":{
  "x":{"field":"d","type":"temporal","scale":{"type":"utc","domain":[{"year":2008,"month":5,"date":26,"utc":true},{"year":2012,"month":2,"date":21,"utc":true}]}},
  "y":{"field":"v","type":"quantitative","scale":{"domain":[95,170],"nice":false,"zero":false},"axis":null},
  "text":{"field":"t"}}},
{"data":{"values":[
  {"d1":"2008-07-14","d2":"2009-06-21","v1":107.27,"v2":103.01},
  {"d1":"2009-08-22","d2":"2010-06-21","v1":107.27,"v2":103.01}]},
 "mark":{"type":"rect","fill":"#47A16C","fillOpacity":0.88,"cornerRadius":8},
 "encoding":{
  "x":{"field":"d1","type":"temporal","scale":{"type":"utc","domain":[{"year":2008,"month":5,"date":26,"utc":true},{"year":2012,"month":2,"date":21,"utc":true}]}},
  "x2":{"field":"d2"},
  "y":{"field":"v1","type":"quantitative","scale":{"domain":[95,170],"nice":false,"zero":false},"axis":null},
  "y2":{"field":"v2"}}},
{"data":{"values":[
  {"d1":"2010-08-10","d2":"2011-06-23","v1":130.56,"v2":126.36},
  {"d1":"2011-07-18","d2":"2011-12-11","v1":125.24,"v2":116.85}]},
 "mark":{"type":"rect","fill":"#359A67","cornerRadius":14},
 "encoding":{
  "x":{"field":"d1","type":"temporal","scale":{"type":"utc","domain":[{"year":2008,"month":5,"date":26,"utc":true},{"year":2012,"month":2,"date":21,"utc":true}]}},
  "x2":{"field":"d2"},
  "y":{"field":"v1","type":"quantitative","scale":{"domain":[95,170],"nice":false,"zero":false},"axis":null},
  "y2":{"field":"v2"}}},
{"data":{"values":[
  {"d":"2008-12-31","v":105.03,"t":"24期(2009/6)"},
  {"d":"2010-01-19","v":105.03,"t":"25期(2010/6)"},
  {"d":"2011-01-16","v":128.39,"t":"26期(2011/6)"}]},
 "mark":{"type":"text","font":"Noto Sans CJK JP","fontSize":33,"align":"center","baseline":"middle","color":"#F4F4F4"},
 "encoding":{
  "x":{"field":"d","type":"temporal","scale":{"type":"utc","domain":[{"year":2008,"month":5,"date":26,"utc":true},{"year":2012,"month":2,"date":21,"utc":true}]}},
  "y":{"field":"v","type":"quantitative","scale":{"domain":[95,170],"nice":false,"zero":false},"axis":null},
  "text":{"field":"t"}}},
{"data":{"values":[
  {"d":"2011-09-28","v":122.75,"t":"27期"},
  {"d":"2011-09-28","v":119.1,"t":"（上期）"}]},
 "mark":{"type":"text","font":"Noto Sans CJK JP","fontSize":37,"align":"center","baseline":"middle","color":"#ffffff"},
 "encoding":{
  "x":{"field":"d","type":"temporal","scale":{"type":"utc","domain":[{"year":2008,"month":5,"date":26,"utc":true},{"year":2012,"month":2,"date":21,"utc":true}]}},
  "y":{"field":"v","type":"quantitative","scale":{"domain":[95,170],"nice":false,"zero":false},"axis":null},
  "text":{"field":"t"}}},
{"data":{"values":[
  {"d1":"2008-03-29","d2":"2008-09-25","v1":113.85,"v2":109.37,"c":"eur"},
  {"d1":"2011-10-03","d2":"2012-02-24","v1":142.17,"v2":137.62,"c":"usd"}]},
 "mark":{"type":"rect"},
 "encoding":{
  "x":{"field":"d1","type":"temporal","scale":{"type":"utc","domain":[{"year":2008,"month":5,"date":26,"utc":true},{"year":2012,"month":2,"date":21,"utc":true}]}},
  "x2":{"field":"d2"},
  "y":{"field":"v1","type":"quantitative","scale":{"domain":[95,170],"nice":false,"zero":false},"axis":null},
  "y2":{"field":"v2"},
  "color":{"field":"c","type":"nominal","scale":{"domain":["usd","eur"],"range":["#FF0000","#0070C0"]},"legend":null}}},
{"data":{"values":[
  {"d":"2008-06-27","v":111.61,"t":"ユーロ(左)","s":36},
  {"d":"2011-12-13","v":139.79,"t":"ドル（右）","s":30}]},
 "mark":{"type":"text","font":"Noto Sans CJK JP","fontWeight":"bold","align":"center","baseline":"middle","color":"#ffffff"},
 "encoding":{
  "x":{"field":"d","type":"temporal","scale":{"type":"utc","domain":[{"year":2008,"month":5,"date":26,"utc":true},{"year":2012,"month":2,"date":21,"utc":true}]}},
  "y":{"field":"v","type":"quantitative","scale":{"domain":[95,170],"nice":false,"zero":false},"axis":null},
  "text":{"field":"t"},
  "size":{"field":"s","type":"quantitative","scale":null,"legend":null}}},
{"data":{"values":[
  {"d1":"2008-04-20","d2":"2008-09-01","v":118.67,"c":"eur"},
  {"d1":"2011-10-29","d2":"2012-02-28","v":133.78,"c":"usd"}]},
 "mark":{"type":"rule","strokeWidth":11,"strokeCap":"butt"},
 "encoding":{
  "x":{"field":"d1","type":"temporal","scale":{"type":"utc","domain":[{"year":2008,"month":5,"date":26,"utc":true},{"year":2012,"month":2,"date":21,"utc":true}]}},
  "x2":{"field":"d2"},
  "y":{"field":"v","type":"quantitative","scale":{"domain":[95,170],"nice":false,"zero":false},"axis":null},
  "color":{"field":"c","type":"nominal","scale":{"domain":["usd","eur"],"range":["#FF0000","#0070C0"]},"legend":null}}},
{"data":{"values":[
  {"d":"2008-05-18","v":120.42,"o":1,"c":"eur"},
  {"d":"2008-04-12","v":118.67,"o":2,"c":"eur"},
  {"d":"2008-05-18","v":116.92,"o":3,"c":"eur"},
  {"d":"2012-02-01","v":135.38,"o":1,"c":"usd"},
  {"d":"2012-03-09","v":133.78,"o":2,"c":"usd"},
  {"d":"2012-02-01","v":132.10,"o":3,"c":"usd"}]},
 "mark":{"type":"line","strokeWidth":11,"strokeCap":"round","strokeJoin":"miter"},
 "encoding":{
  "x":{"field":"d","type":"temporal","scale":{"type":"utc","domain":[{"year":2008,"month":5,"date":26,"utc":true},{"year":2012,"month":2,"date":21,"utc":true}]}},
  "y":{"field":"v","type":"quantitative","scale":{"domain":[95,170],"nice":false,"zero":false},"axis":null},
  "order":{"field":"o","type":"quantitative"},
  "detail":{"field":"c","type":"nominal"},
  "color":{"field":"c","type":"nominal","scale":{"domain":["usd","eur"],"range":["#FF0000","#0070C0"]},"legend":null}}}
],
"resolve":{"scale":{"y":"independent"}}
}
